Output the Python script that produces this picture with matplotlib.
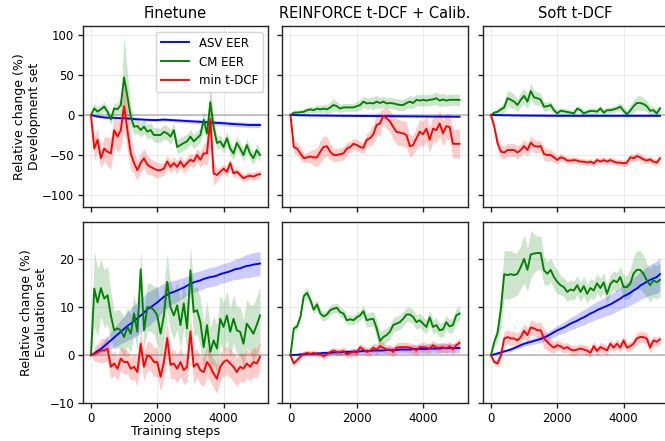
import matplotlib
matplotlib.use("Agg")
import matplotlib.pyplot as plt

steps = list(range(0, 5200, 100))

titles = ["Finetune", "REINFORCE t-DCF + Calib.", "Soft t-DCF"]
row_labels = ["Relative change (%)\nDevelopment set", "Relative change (%)\nEvaluation set"]
series_names = ["ASV EER", "CM EER", "min t-DCF"]
series_colors = ["blue", "green", "red"]

# ---------------- Development set ----------------
ft_dev_asv = [0, -1, -2, -2.5, -3, -3.3, -3.5, -3.5, -3.8, -4, -4, -4.3, -4.5, -5, -5.3, -5.5, -5.8, -6, -6.2, -6.3,
              -6.3, -6, -5.8, -6, -6.3, -6.5, -6.8, -7, -7.3, -7.5, -7.8, -8, -8.3, -8.5, -8.8, -9, -9.3, -9.6, -9.8, -10,
              -10.3, -10.6, -11, -11.3, -11.5, -11.8, -12, -12.3, -12.5, -12.5, -12.5, -12.5]
ft_dev_asv_sd = [0, 0.8, 1, 1, 1, 1, 1, 1.2, 1.2, 1.3, 1.3, 1.4, 1.5, 1.5, 1.6, 1.7, 1.8, 1.8, 1.9, 2,
                 2, 2, 2, 2, 2.1, 2.1, 2.2, 2.2, 2.3, 2.3, 2.4, 2.4, 2.5, 2.5, 2.6, 2.6, 2.7, 2.7, 2.8, 2.8,
                 2.9, 2.9, 3, 3, 3.1, 3.1, 3.2, 3.2, 3.3, 3.3, 3.3, 3.3]
ft_dev_cm = [0, 8.3, 4.2, 7.1, 10.4, 4.2, -5.4, 8.3, 7.1, 12.5, 47, 23, -2, -14.6, -13.8, -18.8, -14.6, -20.8, -18.8, -25,
             -25, -25, -21, -23, -27, -19, -40, -37.5, -35, -33, -27, -33, -29, -25, -6, -23, 16, -15, -35, -33,
             -40, -29, -42, -48, -35, -42, -50, -37.5, -48, -54, -44, -50]
ft_dev_cm_sd = [0, 6, 6, 6, 6, 6, 7, 7, 8, 10, 52, 30, 14, 10, 9, 9, 9, 9, 9, 9,
                9, 9, 9, 9, 9, 9, 9, 9, 9, 9, 9, 9, 9, 9, 12, 12, 22, 12, 8, 8,
                8, 8, 8, 8, 8, 8, 8, 8, 8, 8, 8, 8]
ft_dev_tdcf = [0, -42, -31, -54, -42, -46, -48, -19, -27, -19, 11, -19, -48, -60, -69, -60, -54, -62, -65, -67,
               -69, -69, -67, -58, -65, -60, -65, -58, -65, -60, -56, -58, -50, -56, -48, -48, -5, -73, -75, -71,
               -67, -71, -60, -73, -71, -75, -79, -77, -76, -77, -75, -74]
ft_dev_tdcf_sd = [0, 15, 15, 12, 15, 18, 20, 20, 20, 22, 30, 25, 20, 14, 12, 12, 12, 12, 10, 10,
                  10, 8, 8, 8, 8, 8, 8, 8, 8, 8, 8, 8, 8, 10, 12, 15, 35, 15, 8, 6,
                  6, 6, 6, 6, 5, 5, 5, 5, 5, 5, 5, 5]

rl_dev_asv = [0, 0, -0.2, -0.3, -0.3, -0.4, -0.5, -0.5, -0.6, -0.6, -0.7, -0.7, -0.8, -0.8, -0.9, -0.9, -1, -1, -1, -1.1,
              -1.1, -1.2, -1.2, -1.2, -1.3, -1.3, -1.3, -1.4, -1.4, -1.4, -1.5, -1.5, -1.5, -1.6, -1.6, -1.6, -1.7, -1.7, -1.7, -1.8,
              -1.8, -1.8, -1.9, -1.9, -1.9, -2, -2, -2, -2, -2.1, -2.1, -2.1]
rl_dev_asv_sd = [0, 1, 1, 1, 1, 1, 1, 1, 1, 1, 1, 1, 1, 1, 1, 1, 1, 1, 1, 1,
                 1, 1, 1, 1, 1, 1, 1, 1, 1, 1, 1, 1, 1, 1, 1, 1, 1, 1, 1, 1,
                 1, 1, 1, 1, 1, 1, 1, 1, 1, 1, 1, 1]
rl_dev_cm = [0, 3, 3, 3.5, 4, 6, 7, 6, 8, 7, 8, 7, 9.5, 12.5, 11, 8, 9.5, 9.5, 9.5, 9.5,
             11, 12.5, 16.7, 14.5, 15, 14.5, 16.7, 15, 16.7, 14.5, 15, 14.5, 13.5, 12.5, 12.5, 15, 16.7, 15, 19, 18,
             19, 18, 19, 19.5, 21, 18, 19.5, 18, 19, 19, 19, 19]
rl_dev_cm_sd = [0, 3, 3, 3, 4, 4, 4, 4, 5, 5, 5, 6, 7, 8, 6, 5, 5, 5, 5, 5,
                6, 7, 7, 7, 7, 8, 8, 7, 7, 7, 7, 7, 7, 7, 7, 7, 8, 7, 7, 7,
                7, 7, 7, 7, 8, 8, 8, 7, 7, 7, 7, 7]
rl_dev_tdcf = [0, -40, -42, -48, -54, -53, -52, -53, -53, -46, -40, -39, -46, -50, -50, -49, -48, -42, -40, -36,
               -37.5, -40, -41, -31, -29, -24, -12.5, -10.5, -1, -4, -8, -15, -21, -22, -23, -25, -39, -37.5, -29, -21,
               -24, -17, -31, -17, -19, -10.5, -23, -14, -15, -36, -36, -36]
rl_dev_tdcf_sd = [0, 8, 8, 8, 6, 6, 8, 10, 12, 14, 14, 12, 10, 8, 8, 8, 8, 8, 7, 7,
                  7, 7, 7, 8, 10, 12, 14, 14, 10, 12, 14, 15, 16, 16, 16, 16, 14, 12, 14, 16,
                  16, 16, 16, 16, 16, 16, 16, 16, 16, 18, 18, 18]

sf_dev_asv = [0, 0, -0.1, -0.2, -0.3, -0.3, -0.4, -0.5, -0.5, -0.6, -0.6, -0.7, -0.7, -0.7, -0.8, -0.8, -0.8, -0.9, -0.9, -0.9,
              -1, -1, -1, -1, -1, -1, -1, -1, -1, -1, -1, -1, -1, -1, -1, -1, -1, -1, -1, -1,
              -1, -1, -1, -1, -1, -1, -1, -1, -1, -1, -1, -1]
sf_dev_asv_sd = [0, 1, 1, 1, 1, 1, 1, 1, 1, 1, 1, 1, 1, 1, 1, 1, 1, 1, 1, 1,
                 1, 1, 1, 1, 1, 1, 1, 1, 1, 1, 1, 1, 1, 1, 1, 1, 1, 1, 1, 1,
                 1, 1, 1, 1, 1, 1, 1, 1, 1, 1, 1, 1]
sf_dev_cm = [0, 3, 4, 7, 9.6, 21, 19, 16.7, 12.5, 19, 24, 16.7, 30, 22, 21, 19, 10.4, 11, 12.5, 6,
             2, 5.4, 4.6, 3.8, 3, 2, 8, 6, 2, 3.8, 5, 5, 4.2, 8.3, 3, 6, 6, 7, 8.3, 10.4,
             5.4, 1, 5.4, 11, 15, 15, 13.8, 11, 5.4, 6, 2, 8.3]
sf_dev_cm_sd = [0, 3, 4, 5, 7, 10, 10, 9, 8, 9, 10, 9, 10, 9, 8, 8, 6, 5, 5, 4,
                4, 4, 4, 4, 4, 4, 4, 4, 4, 4, 4, 4, 4, 4, 4, 4, 4, 4, 4, 5,
                5, 5, 6, 8, 9, 9, 8, 7, 6, 5, 5, 5]
sf_dev_tdcf = [0, -14.6, -35.4, -45.8, -47, -43.8, -43.8, -43.8, -47, -43.8, -38.8, -43.8, -34.6, -38.8, -39.6, -38.8, -48.8, -50, -50, -52.9,
               -56.3, -52.9, -54, -57, -57, -56.3, -57, -58.3, -58.3, -59.6, -58.3, -60.4, -56.3, -58.3, -56.3, -58.3, -56.3, -58.3, -59.6, -59.6,
               -60.4, -59.6, -52.9, -54.2, -51.3, -52.9, -55.4, -57, -55.4, -58.3, -59.6, -54.2]
sf_dev_tdcf_sd = [0, 5, 7, 8, 8, 8, 8, 8, 8, 8, 8, 8, 8, 8, 8, 7, 8, 8, 7, 6,
                  5, 5, 4, 4, 4, 4, 4, 4, 4, 4, 4, 4, 4, 4, 4, 4, 4, 4, 4, 4,
                  4, 4, 5, 5, 5, 5, 5, 4, 4, 4, 4, 4]

# ---------------- Evaluation set ----------------
ft_eval_asv = [0, 0.4, 0.9, 1.3, 1.9, 2.5, 3.1, 3.7, 4.3, 4.9, 5.5, 6.1, 6.6, 7.1, 7.7, 8.3, 8.9, 9.6, 10, 10.5,
               11, 11.6, 12.2, 12.6, 13, 13.2, 13.5, 13.8, 14.1, 14.5, 14.9, 15.2, 15.4, 15.6, 15.9, 16.1, 16.3, 16.4, 16.6, 16.9,
               17.1, 17.3, 17.5, 17.8, 18, 18.1, 18.4, 18.6, 18.7, 18.9, 19, 19.1]
ft_eval_asv_sd = [0, 0.5, 0.7, 1, 1.2, 1.5, 1.8, 2, 2.3, 2.5, 2.8, 3, 3.2, 3.4, 3.5, 3.6, 3.6, 3.6, 3.5, 3.4,
                  3.2, 3, 2.8, 2.6, 2.5, 2.4, 2.3, 2.2, 2.1, 2, 2, 2, 2, 2, 2, 2, 2, 2, 2, 2,
                  2, 2, 2, 2, 2.2, 2.2, 2.3, 2.4, 2.5, 2.5, 2.5, 2.5]
ft_eval_cm = [0, 13.9, 11, 14, 11.8, 12.5, 8.3, 5.2, 5.6, 5.2, 3.8, 5.9, 4.5, 8.7, 4.9, 17.9, 5.2, 10, 10, 9.4,
              8.3, 4.5, 8.3, 15.3, 10, 8.3, 10.4, 6.3, 10.8, 5.6, 17.7, 9, 9.4, 6.9, 1.7, 6.3, 0.7, 3.1, 1.4, 7.6,
              5.9, 8.3, 4.9, 7.6, 5.2, 4.9, 2.4, 6.6, 5.6, 4.5, 6.3, 8.3]
ft_eval_cm_sd = [0, 8, 7, 6, 6, 6, 5, 4, 4, 4, 4, 4, 4, 4, 4, 4, 4, 5, 5, 5,
                 6, 6, 6, 6, 5, 5, 5, 5, 5, 5, 5, 5, 5, 5, 5, 5, 5, 5, 5, 5,
                 5, 5, 5, 5, 5, 5, 5, 5, 5, 6, 6, 6]
ft_eval_tdcf = [0, 0.3, 0.6, 1, 1, 1.4, -2.4, -1.7, -2.8, -0.7, -1.4, -1.4, -2.8, -2.4, -3.5, 2.4, -2.4, 0, -0.3, -1.4,
                -1.4, -4.5, -1.4, 3.6, -2, -1.7, -2.8, -1.4, -3.1, -2.4, 5, -2.4, -1.7, -3.1, -3.5, -1.4, -2.4, -3.8, -4.9, -2.4,
                -1.4, -1, -1.7, -2.4, -3.5, -2.4, -2.8, -1.7, -2.4, -1.4, -1.7, -0.3]
ft_eval_tdcf_sd = [0, 1.5, 2, 2.5, 2.5, 2.5, 2.5, 2.5, 2.5, 2.5, 2.5, 2.5, 2.5, 2.5, 3, 3, 3, 3, 3, 3,
                   3, 3, 3, 3.5, 3, 3, 3, 3, 3, 3, 3.5, 3.5, 3, 3, 3, 3, 3, 3, 3, 3,
                   3, 3, 3, 3, 3, 3, 3, 3, 3, 3, 3, 3]

rl_eval_asv = [0, 0.1, 0.1, 0.2, 0.2, 0.3, 0.3, 0.3, 0.4, 0.4, 0.5, 0.5, 0.5, 0.6, 0.6, 0.6, 0.7, 0.7, 0.7, 0.8,
               0.8, 0.8, 0.9, 0.9, 0.9, 1, 1, 1, 1, 1.1, 1.1, 1.1, 1.1, 1.2, 1.2, 1.2, 1.2, 1.3, 1.3, 1.3,
               1.3, 1.3, 1.4, 1.4, 1.4, 1.4, 1.5, 1.5, 1.5, 1.5, 1.5, 1.5]
rl_eval_asv_sd = [0, 0.2, 0.2, 0.2, 0.3, 0.3, 0.3, 0.3, 0.3, 0.4, 0.4, 0.4, 0.4, 0.4, 0.5, 0.5, 0.5, 0.5, 0.5, 0.5,
                  0.6, 0.6, 0.6, 0.6, 0.6, 0.6, 0.7, 0.7, 0.7, 0.7, 0.7, 0.8, 0.8, 0.8, 0.8, 0.8, 0.9, 0.9, 0.9, 0.9,
                  0.9, 1, 1, 1, 1, 1, 1, 1, 1, 1, 1, 1]
rl_eval_cm = [0, 5.6, 6, 8, 12.3, 13, 11.5, 9.5, 10.6, 8.7, 8.1, 8.5, 9.4, 9.7, 9.9, 9, 8.7, 7.3, 7.5, 7.3,
              7.9, 8.3, 9.2, 7.3, 7.5, 7.6, 5.6, 3, 3.8, 4.2, 4.9, 6.3, 6.6, 6.9, 7.6, 8.5, 8.5, 8, 6.9, 7.3,
              6.6, 5.9, 7.9, 5.9, 6.3, 5.2, 5.4, 6.9, 6, 6.3, 8.3, 8.7]
rl_eval_cm_sd = [0, 0.6, 0.8, 1, 1, 1.2, 1, 1, 1, 1, 1, 1, 1, 1, 1, 1, 1, 1, 1, 1,
                 1, 1, 1.2, 1.5, 1.5, 1.5, 2, 2, 1.5, 1.5, 1.5, 1.5, 1.5, 1.5, 1.5, 1.5, 1.5, 1.5, 1.5, 1.5,
                 1.5, 1.5, 1.5, 1.5, 1.5, 1.5, 1.5, 1.5, 1.5, 1.5, 1.5, 1.5]
rl_eval_tdcf = [0, -1.7, -1, -0.3, 0.3, 0.5, 0.3, 0.5, 0.2, 0.2, -0.2, 0.2, 0.7, 1, 0.7, 0.7, 0.9, 0.2, 0.5, 0.7,
                0.5, 1.7, 1.2, 0.7, 0.9, 1.6, 1.2, 1.9, 1.6, 1.2, 1.2, 0.7, 1.6, 1.7, 1.7, 1.7, 1.6, 1.4, 1, 1.7,
                1.7, 1.6, 1.4, 2.1, 1.6, 1.6, 1.7, 1.4, 1.9, 1.2, 2.1, 2.6]
rl_eval_tdcf_sd = [0, 0.5, 0.6, 0.6, 0.6, 0.6, 0.6, 0.6, 0.6, 0.6, 0.6, 0.6, 0.7, 0.7, 0.7, 0.7, 0.8, 0.8, 0.8, 0.8,
                   0.8, 0.8, 0.8, 0.9, 0.9, 1, 1.1, 1.2, 1, 1, 1, 1, 1, 1, 1, 1, 1, 1, 1, 1,
                   1, 1, 1, 1, 1, 1, 1, 1, 1, 1, 1, 1]

sf_eval_asv = [0, 0.2, 0.4, 0.6, 0.8, 1, 1.2, 1.5, 1.8, 2.1, 2.4, 2.6, 2.8, 3, 3.2, 3.4, 3.7, 4, 4.4, 4.8,
               5.2, 5.5, 5.8, 6.2, 6.6, 6.9, 7.2, 7.6, 7.9, 8.3, 8.7, 9, 9.4, 9.7, 10, 10.3, 10.6, 11, 11.4, 11.8,
               12.3, 12.6, 13, 13.5, 13.9, 14.5, 14.9, 15.3, 15.7, 16, 16.3, 16.9]
sf_eval_asv_sd = [0, 0.2, 0.2, 0.3, 0.3, 0.3, 0.4, 0.4, 0.4, 0.5, 0.5, 0.6, 0.6, 0.7, 0.7, 0.8, 0.8, 0.9, 0.9, 1,
                  1, 1.1, 1.2, 1.2, 1.3, 1.4, 1.4, 1.5, 1.6, 1.6, 1.7, 1.8, 1.8, 1.9, 2, 2, 2.1, 2.2, 2.2, 2.3,
                  2.4, 2.5, 2.6, 2.7, 2.8, 2.9, 3, 3.1, 3.2, 3.3, 3.4, 3.5]
sf_eval_cm = [0, 2.8, 4.7, 9.7, 16.9, 16.7, 16.9, 16.7, 17, 18.4, 20.1, 17.8, 21, 21.2, 21.3, 21.3, 17.7, 17, 17.8, 16.3,
              15.3, 14.6, 14.2, 13.2, 13.7, 13.5, 14.6, 13.2, 14.4, 12.8, 14, 13.5, 15, 14, 15.2, 12.8, 14.8, 15.6, 15.2, 16.3,
              14.2, 14.2, 14.9, 17, 17.8, 17.8, 17, 15.6, 14.6, 15.6, 15.2, 15.7]
sf_eval_cm_sd = [0, 1, 2, 4, 5, 5, 5, 4.5, 4.5, 4.5, 5, 4.5, 5, 4, 3.5, 3.5, 3, 2.5, 2.5, 2.5,
                 2.5, 2, 2, 2, 2, 2, 2, 2, 2, 2, 2, 2, 2, 2, 2, 2, 2, 2, 2, 2.2,
                 2.5, 2.5, 3, 3.5, 4, 4, 4, 3.5, 3.5, 3.5, 3.5, 3.5]
sf_eval_tdcf = [0, -1.4, -1.7, 0, 3.5, 3.8, 3.5, 3.5, 3.1, 3.8, 5.1, 4.2, 5.8, 5.6, 5.2, 5.2, 3.5, 2.8, 2.1, 1.6,
                2.1, 1.9, 1.4, 1.7, 1.2, 1, 1.2, 1.4, 1.2, 1, 0.5, 1.9, 0.9, 1.7, 1.4, 1, 2.4, 1.6, 2.4, 1.6,
                3.1, 1.6, 1.9, 2.4, 3.5, 3.8, 3.8, 3.5, 1.6, 3.1, 2.8, 3.3]
sf_eval_tdcf_sd = [0, 0.5, 0.8, 1.2, 1.5, 1.5, 1.5, 1.5, 1.5, 1.5, 1.5, 1.5, 1.5, 1.5, 1.5, 1.8, 2, 1.8, 1.5, 1.2,
                   1, 1, 1, 1, 1, 1, 1, 1, 1, 1, 1, 1, 1, 1, 1, 1, 1, 1, 1, 1,
                   1, 1, 1, 1, 1.2, 1.2, 1.2, 1.2, 1.2, 1, 1, 1]

panels = [
    [(ft_dev_asv, ft_dev_asv_sd, ft_dev_cm, ft_dev_cm_sd, ft_dev_tdcf, ft_dev_tdcf_sd),
     (rl_dev_asv, rl_dev_asv_sd, rl_dev_cm, rl_dev_cm_sd, rl_dev_tdcf, rl_dev_tdcf_sd),
     (sf_dev_asv, sf_dev_asv_sd, sf_dev_cm, sf_dev_cm_sd, sf_dev_tdcf, sf_dev_tdcf_sd)],
    [(ft_eval_asv, ft_eval_asv_sd, ft_eval_cm, ft_eval_cm_sd, ft_eval_tdcf, ft_eval_tdcf_sd),
     (rl_eval_asv, rl_eval_asv_sd, rl_eval_cm, rl_eval_cm_sd, rl_eval_tdcf, rl_eval_tdcf_sd),
     (sf_eval_asv, sf_eval_asv_sd, sf_eval_cm, sf_eval_cm_sd, sf_eval_tdcf, sf_eval_tdcf_sd)],
]

row_ylims = [(-115.4, 111.3), (-10, 27.7)]
row_yticks = [[-100, -50, 0, 50, 100], [-10, 0, 10, 20]]
xticks = [0, 2000, 4000]

fig, axes = plt.subplots(2, 3, figsize=(6.65, 4.41), dpi=100, sharex=True, sharey='row')

col_left = [82.5, 282.0, 482.5]
col_w = 186.0
row_top = [26.0, 222.3]
row_h = [181.3, 181.0]
W, H = 665.0, 441.0

for r in range(2):
    for c in range(3):
        ax = axes[r][c]
        ax.set_position([col_left[c] / W, 1 - (row_top[r] + row_h[r]) / H, col_w / W, row_h[r] / H])
        asv, asv_sd, cm, cm_sd, td, td_sd = panels[r][c]
        ax.axhline(0, color='#999999', lw=1.3, alpha=0.6, zorder=1)
        for vals, sd, name, col in zip((asv, cm, td), (asv_sd, cm_sd, td_sd), series_names, series_colors):
            lo = [v - s for v, s in zip(vals, sd)]
            hi = [v + s for v, s in zip(vals, sd)]
            ax.fill_between(steps, lo, hi, color=col, alpha=0.2, lw=0, zorder=2)
            ax.plot(steps, vals, color=col, lw=1.35, label=name, zorder=3)
        ax.set_xticks(xticks)
        ax.set_yticks(row_yticks[r])
        ax.set_ylim(*row_ylims[r])
        ax.grid(True, color='#e8e8e8', lw=0.6)
        ax.set_axisbelow(True)
        for sp in ax.spines.values():
            sp.set_color('#222222')
            sp.set_linewidth(1.0)
        ax.tick_params(labelsize=8.5, length=3.5, width=1.0, color='#222222', pad=2.5)
        if r == 0:
            ax.set_title(titles[c], fontsize=10.5)
        if c == 0:
            ax.set_ylabel(row_labels[r], fontsize=9, labelpad=1)

axes[0][0].set_xlim(-255, 5355)
axes[1][0].set_xlabel("Training steps", fontsize=9.2, labelpad=0.5)
axes[0][0].legend(loc='upper right', fontsize=8.5, framealpha=0.8, handlelength=2.4)

fig.savefig("out.png", dpi=100)
